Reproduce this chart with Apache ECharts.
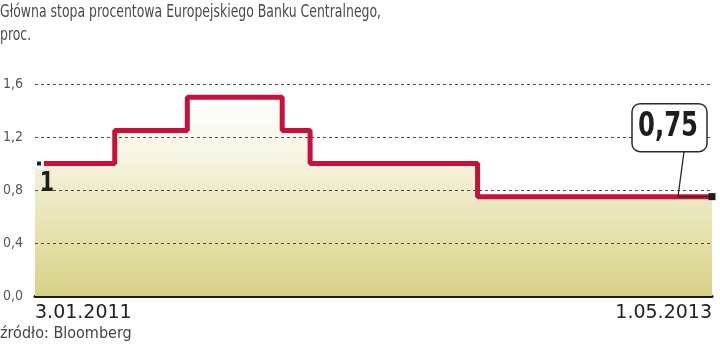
<!DOCTYPE html>
<html><head><meta charset="utf-8">
<script src="https://cdn.jsdelivr.net/npm/echarts@6/dist/echarts.min.js"></script>
<style>html,body{margin:0;padding:0;background:#fff}#c{width:720px;height:349px}</style>
</head><body><div id="c"></div>
<script>
const dates = ['2011-01-03','2011-04-13','2011-07-13','2011-11-09','2011-12-14','2012-07-11','2013-05-01'];
const rates = [1.0, 1.25, 1.5, 1.25, 1.0, 0.75, 0.75];
const yTicks = [0, 0.4, 0.8, 1.2, 1.6];
const xLabels = ['3.01.2011', '1.05.2013'];
const title1 = 'Główna stopa procentowa Europejskiego Banku Centralnego,';
const title2 = 'proc.';
const source = 'źródło: Bloomberg';
const startLabel = '1';
const endLabel = '0,75';

const COND = '"DejaVu Sans Condensed", "DejaVu Sans", sans-serif';
const day = d => (Date.parse(d) - Date.parse(dates[0])) / 86400000;
const xMax = day(dates[dates.length - 1]);
const last = dates.length - 1;
const points = dates.map((d, i) => [day(d), rates[i]]);

const lineData = points.map((p, i) => {
  const item = { value: p };
  if (i === 0) {
    item.symbol = 'rect';
    item.symbolSize = 7;
    item.symbolOffset = [4, 0];
    item.itemStyle = { color: '#1e1e1e', borderColor: '#fff', borderWidth: 3 };
  } else if (i === last) {
    item.symbol = 'rect';
    item.symbolSize = 7;
    item.itemStyle = { color: '#1e1e1e', borderWidth: 0 };
  } else {
    item.symbol = 'none';
  }
  return item;
});

const chart = echarts.init(document.getElementById('c'));
chart.setOption({
  animation: false,
  grid: { left: 32, right: 8, top: 84, bottom: 53 },
  xAxis: {
    type: 'value', min: 0, max: xMax, interval: xMax,
    axisLine: { show: true, lineStyle: { color: '#1a1a1a', width: 3 } },
    axisTick: { show: false },
    splitLine: { show: false },
    axisLabel: {
      margin: 8, fontSize: 19, color: '#222', fontFamily: '"DejaVu Sans", sans-serif',
      alignMinLabel: 'left', alignMaxLabel: 'right',
      formatter: v => (v === 0 ? xLabels[0] : xLabels[1])
    }
  },
  yAxis: {
    type: 'value', min: yTicks[0], max: yTicks[yTicks.length - 1], interval: 0.4,
    axisLine: { show: false }, axisTick: { show: false },
    splitLine: { show: false },
    axisLabel: {
      align: 'left', margin: 32, fontSize: 14, color: '#555', fontFamily: COND,
      formatter: v => v.toFixed(1).replace('.', ',')
    }
  },
  series: [
    {
      type: 'line', step: 'end', data: points, symbol: 'none', silent: true,
      lineStyle: { width: 0, opacity: 0 },
      areaStyle: {
        opacity: 1,
        color: new echarts.graphic.LinearGradient(0, 0, 0, 1, [
          { offset: 0, color: '#ffffff' },
          { offset: 0.32, color: '#f5f3e0' },
          { offset: 0.47, color: '#eeebca' },
          { offset: 0.74, color: '#e3dfa6' },
          { offset: 1, color: '#d6d185' }
        ])
      },
      z: 2
    },
    {
      type: 'line', data: [], symbol: 'none', z: 3,
      markLine: {
        silent: true, symbol: 'none', label: { show: false },
        lineStyle: { color: '#4a4a4a', width: 1, type: [3, 3] },
        data: yTicks.filter(v => v > 0).map(v => ({ yAxis: v }))
      }
    },
    {
      type: 'line', step: 'end', data: lineData, showAllSymbol: true,
      lineStyle: { color: '#c8103a', width: 5 },
      z: 4
    }
  ]
});

const S = chart.convertToPixel({ seriesIndex: 2 }, points[0]);
const P = chart.convertToPixel({ seriesIndex: 2 }, points[last]);
chart.setOption({
  graphic: [
    { type: 'text', x: 0, y: 3, scaleX: 0.77, style: { text: title1, font: '18px ' + COND, fill: '#4a4a4a' } },
    { type: 'text', x: 0, y: 26, scaleX: 0.77, style: { text: title2, font: '18px ' + COND, fill: '#4a4a4a' } },
    { type: 'text', x: 0, y: 326, style: { text: source, font: '16px ' + COND, fill: '#444' } },
    { type: 'text', z: 12, x: S[0] + 12, y: S[1] + 20, scaleX: 0.85,
      style: { text: startLabel, font: 'bold 27px ' + COND, fill: '#1e1e1e', align: 'center', verticalAlign: 'middle' } },
    { type: 'polyline', z: 10, shape: { points: [[P[0] - 28, P[1] - 45], [P[0] - 34, P[1]], [P[0] - 4, P[1]]] },
      style: { stroke: '#2a2a2a', lineWidth: 1.3, fill: null } },
    { type: 'rect', z: 11, shape: { x: P[0] - 80, y: P[1] - 93, width: 75, height: 48, r: 8 },
      style: { fill: '#fff', stroke: '#2a2a2a', lineWidth: 1.5 } },
    { type: 'text', z: 12, x: P[0] - 44, y: P[1] - 69, scaleX: 0.82,
      style: { text: endLabel, font: 'bold 33px ' + COND, fill: '#1e1e1e', align: 'center', verticalAlign: 'middle' } }
  ]
});
</script></body></html>
